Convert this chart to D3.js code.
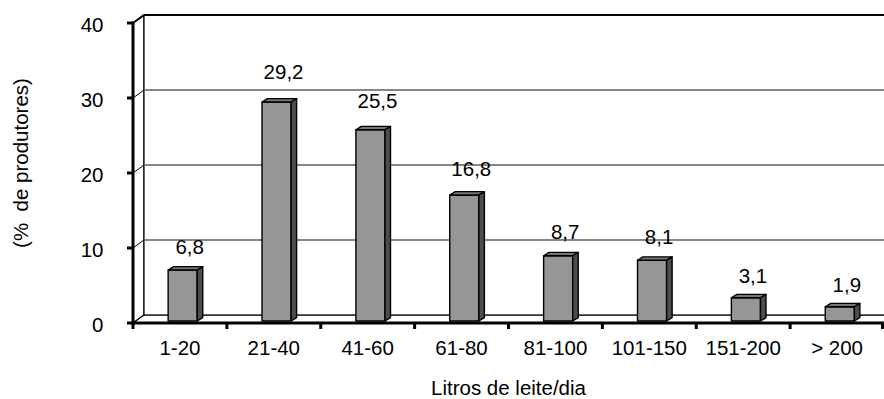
<!DOCTYPE html>
<html>
<head>
<meta charset="utf-8">
<script src="https://cdn.jsdelivr.net/npm/d3@7"></script>
<style>
  html, body { margin: 0; padding: 0; background: #fff; }
  svg { display: block; }
  text { font-family: Arial, "Liberation Sans", sans-serif; fill: #000; white-space: pre; }
</style>
</head>
<body>
<svg id="chart" width="884" height="399"></svg>
<script>
// Milk production per day: share of producers in each class
const categories = ["1-20", "21-40", "41-60", "61-80", "81-100", "101-150", "151-200", "> 200"];
const values = [6.8, 29.2, 25.5, 16.8, 8.7, 8.1, 3.1, 1.9];
const yTicks = [0, 10, 20, 30, 40];
const yTitle = "(%  de produtores)";
const xTitle = "Litros de leite/dia";

const svg = d3.select("#chart");
const FS = 20.5;

// front plane of the 3-D box
const pL = 133, pR = 884, pB = 323, pT = 23;
// depth of the box (oblique projection)
const DX = 11, DY = -8;

const x = d3.scaleBand().domain(categories).range([pL, pR]).padding(0);
const y = d3.scaleLinear().domain([0, 40]).range([pB, pT]);

const ptsToStr = pts => pts.map(p => p.join(",")).join(" ");
const fmt = d3.formatLocale({ decimal: ",", thousands: ".", grouping: [3], currency: ["", ""] }).format(".1f");

// side wall
svg.append("polygon")
  .attr("points", ptsToStr([[pL, pB], [pL + DX, pB + DY], [pL + DX, pT + DY], [pL, pT]]))
  .attr("fill", "#fff").attr("stroke", "#000").attr("stroke-width", 1.2);

// floor
svg.append("polygon")
  .attr("points", ptsToStr([[pL, pB], [pL + DX, pB + DY], [pR + DX, pB + DY], [pR, pB]]))
  .attr("fill", "#fff").attr("stroke", "#000").attr("stroke-width", 1.2);

// back wall
svg.append("rect")
  .attr("x", pL + DX).attr("y", pT + DY)
  .attr("width", pR - pL).attr("height", pB - pT)
  .attr("fill", "#fff").attr("stroke", "#000").attr("stroke-width", 1.2);

// back wall top edge drawn heavier
svg.append("line")
  .attr("x1", pL + DX).attr("x2", pR + DX)
  .attr("y1", pT + DY).attr("y2", pT + DY)
  .attr("stroke", "#000").attr("stroke-width", 2);

// gridlines: diagonal on the side wall, horizontal on the back wall
const grid = svg.append("g");
yTicks.filter(t => t > 0 && t < 40).forEach(t => {
  grid.append("line")
    .attr("x1", pL).attr("y1", y(t))
    .attr("x2", pL + DX).attr("y2", y(t) + DY)
    .attr("stroke", "#000").attr("stroke-width", 1);
  grid.append("line")
    .attr("x1", pL + DX).attr("y1", y(t) + DY)
    .attr("x2", pR + DX).attr("y2", y(t) + DY)
    .attr("stroke", "#5e5e5e").attr("stroke-width", 1.3);
});
// top diagonal of the side wall
svg.append("line")
  .attr("x1", pL).attr("y1", pT).attr("x2", pL + DX).attr("y2", pT + DY)
  .attr("stroke", "#000").attr("stroke-width", 2);

// bars: front face sits a quarter of the way into the box, depth half the box
const barW = x.bandwidth() * 0.31;
const fz = 0.25, dz = 0.5;
const fdx = DX * fz, fdy = DY * fz;
const bdx = DX * dz, bdy = DY * dz * 0.85;

const bars = svg.append("g").selectAll("g")
  .data(categories.map((c, i) => ({ c, v: values[i] })))
  .join("g");

bars.each(function (d) {
  const g = d3.select(this);
  const x0 = x(d.c) + (x.bandwidth() - barW) / 2 + fdx;
  const x1 = x0 + barW;
  const yb = y(0) + fdy;
  const yt = y(d.v) + fdy;
  // front
  g.append("polygon")
    .attr("points", ptsToStr([[x0, yb], [x1, yb], [x1, yt], [x0, yt]]))
    .attr("fill", "#969696").attr("stroke", "#000").attr("stroke-width", 1.4).attr("stroke-linejoin", "round");
  // top
  g.append("polygon")
    .attr("points", ptsToStr([[x0, yt], [x1, yt], [x1 + bdx, yt + bdy], [x0 + bdx, yt + bdy]]))
    .attr("fill", "#777777").attr("stroke", "#000").attr("stroke-width", 1.4).attr("stroke-linejoin", "round");
  // side
  g.append("polygon")
    .attr("points", ptsToStr([[x1, yb], [x1 + bdx, yb + bdy], [x1 + bdx, yt + bdy], [x1, yt]]))
    .attr("fill", "#4d4d4d").attr("stroke", "#000").attr("stroke-width", 1.4).attr("stroke-linejoin", "round");
  // value label
  g.append("text")
    .attr("x", (x0 + x1) / 2 + 7)
    .attr("y", yt - 14 - 0.3 * d.v)
    .attr("text-anchor", "middle")
    .attr("font-size", FS)
    .text(fmt(d.v));
});

// value axis (front-left edge)
const yAxis = svg.append("g");
yAxis.append("line")
  .attr("x1", pL).attr("x2", pL).attr("y1", pT - 1.5).attr("y2", pB + 1.5)
  .attr("stroke", "#000").attr("stroke-width", 3);
yAxis.selectAll("line.tick").data(yTicks).join("line").attr("class", "tick")
  .attr("x1", pL - 6).attr("x2", pL).attr("y1", d => y(d)).attr("y2", d => y(d))
  .attr("stroke", "#000").attr("stroke-width", 3);
yAxis.selectAll("text").data(yTicks).join("text")
  .attr("x", 103.5).attr("y", d => y(d) + 8.5)
  .attr("text-anchor", "end").attr("font-size", FS)
  .text(d => d);

// category axis (front-bottom edge)
const xAxis = svg.append("g");
xAxis.append("line")
  .attr("x1", pL - 1.5).attr("x2", pR).attr("y1", pB).attr("y2", pB)
  .attr("stroke", "#000").attr("stroke-width", 3);
const bounds = categories.map(c => x(c)).concat([pR - 1.5]);
xAxis.selectAll("line.tick").data(bounds).join("line").attr("class", "tick")
  .attr("x1", d => d).attr("x2", d => d).attr("y1", pB).attr("y2", pB + 6)
  .attr("stroke", "#000").attr("stroke-width", 3);
xAxis.selectAll("text").data(categories).join("text")
  .attr("x", d => x(d) + x.bandwidth() / 2).attr("y", 355)
  .attr("text-anchor", "middle").attr("font-size", FS)
  .text(d => d);

// axis titles
svg.append("text")
  .attr("x", (pL + pR) / 2).attr("y", 395)
  .attr("text-anchor", "middle").attr("font-size", FS)
  .text(xTitle);
svg.append("text")
  .attr("transform", "translate(28,163) rotate(-90)")
  .attr("text-anchor", "middle").attr("font-size", FS)
  .text(yTitle);
</script>
</body>
</html>
